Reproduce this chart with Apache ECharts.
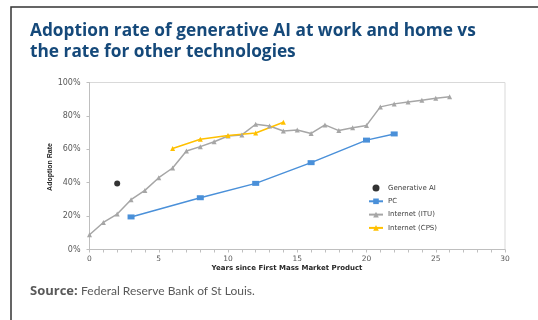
<!DOCTYPE html>
<html>
<head>
<meta charset="utf-8">
<script src="https://cdn.jsdelivr.net/npm/echarts@6/dist/echarts.min.js"></script>
<style>
  html, body { margin: 0; padding: 0; background: #ffffff; }
  #chart { width: 538px; height: 320px; }
</style>
</head>
<body>
<div id="chart"></div>
<script>
// Years since first mass market product, adoption rate in %
const genAI = [[2, 39.5]];
const pcYears = [3, 8, 12, 16, 20, 22];
const pcRate = [19.5, 31.0, 39.6, 52.0, 65.5, 69.2];
const ituYears = [0, 1, 2, 3, 4, 5, 6, 7, 8, 9, 10, 11, 12, 13, 14, 15, 16, 17, 18, 19, 20, 21, 22, 23, 24, 25, 26];
const ituRate = [8.8, 16.2, 21.2, 29.8, 35.4, 43.0, 48.8, 59.0, 61.6, 64.5, 68.0, 68.6, 75.0, 74.0, 71.0, 71.6, 69.5, 74.6, 71.2, 72.9, 74.3, 85.4, 87.2, 88.3, 89.4, 90.5, 91.5];
const cpsYears = [6, 8, 10, 12, 14];
const cpsRate = [60.5, 66.0, 68.3, 69.8, 76.2];
const xTicks = [0, 5, 10, 15, 20, 25, 30];
const yTicks = [0, 20, 40, 60, 80, 100];

const pair = (xs, ys) => xs.map((x, i) => [x, ys[i]]);

const chart = echarts.init(document.getElementById('chart'), null, { renderer: 'canvas' });

chart.setOption({
  animation: false,
  backgroundColor: '#ffffff',
  grid: {
    left: 89.5, right: 33, top: 82.5, bottom: 70.5,
    show: true, borderColor: '#d9d9d9', borderWidth: 1
  },
  xAxis: {
    type: 'value',
    min: xTicks[0], max: xTicks[xTicks.length - 1], interval: 5,
    axisLine: { show: true, lineStyle: { color: '#bfbfbf', width: 1 } },
    axisTick: { show: true, length: 3, lineStyle: { color: '#bfbfbf' } },
    minorTick: { show: true, splitNumber: 5, length: 3, lineStyle: { color: '#bfbfbf' } },
    splitLine: { show: false },
    axisLabel: { margin: 6, fontFamily: 'DejaVu Sans', fontSize: 7.5, color: '#595959' }
  },
  yAxis: {
    type: 'value',
    min: yTicks[0], max: yTicks[yTicks.length - 1], interval: 20,
    axisLine: { show: true, lineStyle: { color: '#bfbfbf', width: 1 } },
    axisTick: { show: true, length: 3, lineStyle: { color: '#bfbfbf' } },
    splitLine: { show: false },
    axisLabel: { margin: 9, formatter: '{value}%', fontFamily: 'DejaVu Sans', fontSize: 8, color: '#595959' }
  },
  legend: {
    orient: 'vertical',
    left: 368, top: 184.5, padding: 0,
    itemWidth: 14, itemHeight: 7, itemGap: 6.3,
    textStyle: { fontFamily: 'DejaVu Sans', fontSize: 7, color: '#404040' },
    data: ['Generative AI', 'PC', 'Internet (ITU)', 'Internet (CPS)']
  },
  series: [
    {
      name: 'Generative AI', type: 'scatter', data: genAI,
      symbol: 'circle', symbolSize: 6,
      itemStyle: { color: '#000000' }
    },
    {
      name: 'PC', type: 'line', data: pair(pcYears, pcRate),
      symbol: 'rect', symbolSize: [7, 5], showAllSymbol: true,
      lineStyle: { color: '#4a90d9', width: 1.5 },
      itemStyle: { color: '#4a90d9' }
    },
    {
      name: 'Internet (ITU)', type: 'line', data: pair(ituYears, ituRate),
      symbol: 'triangle', symbolSize: 5, showAllSymbol: true,
      lineStyle: { color: '#a6a6a6', width: 1.5 },
      itemStyle: { color: '#a6a6a6' }
    },
    {
      name: 'Internet (CPS)', type: 'line', data: pair(cpsYears, cpsRate),
      symbol: 'triangle', symbolSize: 5, showAllSymbol: true,
      lineStyle: { color: '#ffc000', width: 1.5 },
      itemStyle: { color: '#ffc000' }
    }
  ],
  graphic: [
    {
      type: 'rect', silent: true,
      shape: { x: 11, y: 7, width: 600, height: 400 },
      style: { fill: 'none', stroke: '#333333', lineWidth: 1.5 }
    },
    {
      type: 'text', left: 30, top: 21,
      style: {
        text: 'Adoption rate of generative AI at work and home vs\nthe rate for other technologies',
        font: 'bold 17.3px "Open Sans"', fill: '#15497a', lineHeight: 21
      }
    },
    {
      type: 'text', x: 287, y: 268,
      style: {
        text: 'Years since First Mass Market Product',
        font: 'bold 7px "DejaVu Sans"', fill: '#262626',
        align: 'center', verticalAlign: 'middle'
      }
    },
    {
      type: 'text', x: 50, y: 167, rotation: Math.PI / 2,
      style: {
        text: 'Adoption Rate',
        font: 'bold 7px "Liberation Sans Narrow", "Liberation Sans"', fill: '#262626',
        align: 'center', verticalAlign: 'middle'
      }
    },
    {
      type: 'text', left: 30, top: 285,
      style: {
        rich: {
          b: { font: 'bold 13px "Open Sans"', fill: '#595959' },
          r: { font: '12px Lato', fill: '#595959' }
        },
        text: '{b|Source:} {r|Federal Reserve Bank of St Louis.}'
      }
    }
  ]
});
</script>
</body>
</html>
